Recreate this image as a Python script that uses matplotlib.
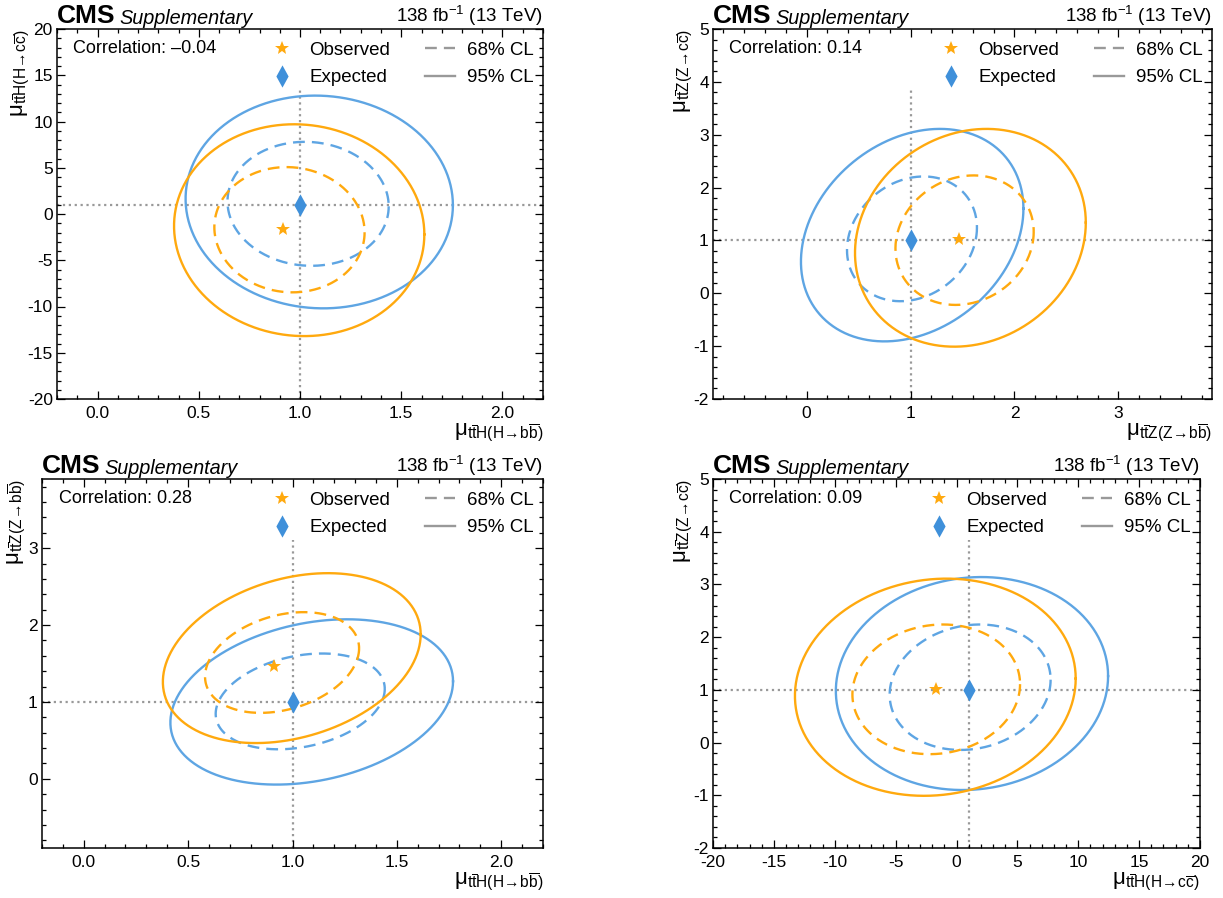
import numpy as np
import matplotlib
matplotlib.use("Agg")
import matplotlib.pyplot as plt
from matplotlib.lines import Line2D
from matplotlib.ticker import MultipleLocator, FormatStrFormatter
from matplotlib.path import Path

plt.rcParams['font.family'] = ['Liberation Sans', 'DejaVu Sans']
plt.rcParams['mathtext.fontset'] = 'custom'
plt.rcParams['mathtext.rm'] = 'Liberation Sans'
plt.rcParams['mathtext.it'] = 'Liberation Sans:italic'
plt.rcParams['mathtext.bf'] = 'Liberation Sans:bold'
plt.rcParams['axes.unicode_minus'] = False

ORANGE = '#ffa90e'
BLUE = '#3f90da'
BLUE_LINE = '#5ea5e3'
GREY = '#999999'

# ---------------- data ----------------
SUB_HBB = r'$_{\mathrm{t\overline{t}H(H\!\rightarrow\!b\overline{b})}}$'
SUB_HCC = r'$_{\mathrm{t\overline{t}H(H\!\rightarrow\!c\overline{c})}}$'
SUB_ZBB = r'$_{\mathrm{t\overline{t}Z(Z\!\rightarrow\!b\overline{b})}}$'
SUB_ZCC = r'$_{\mathrm{t\overline{t}Z(Z\!\rightarrow\!c\overline{c})}}$'
titles_x = ['μ' + SUB_HBB, 'μ' + SUB_ZBB, 'μ' + SUB_HBB, 'μ' + SUB_HCC]
titles_y = ['μ' + SUB_HCC, 'μ' + SUB_ZCC, 'μ' + SUB_ZBB, 'μ' + SUB_ZCC]
correlations = ['\u20130.04', '0.14', '0.28', '0.09']

# best-fit points
obs_x = [0.914, 1.465, 0.912, -1.65]
obs_y = [-1.65, 1.02, 1.466, 1.015]
exp_x = [1.0, 1.0, 1.0, 1.0]
exp_y = [1.0, 1.0, 1.0, 1.0]

# contour parameters: centre x, centre y, half-width x, half-width y, tilt (correlation)
obs68_cx = [0.948, 1.52, 0.95, -1.665]
obs68_cy = [-1.70, 1.005, 1.513, 1.01]
obs68_hx = [0.371, 0.665, 0.369, 6.885]
obs68_hy = [6.77, 1.225, 0.655, 1.23]
obs68_r = [-0.04, 0.13, 0.28, 0.08]

obs95_cx = [0.996, 1.576, 0.9965, -1.74]
obs95_cy = [-1.75, 1.05, 1.57, 1.05]
obs95_hx = [0.618, 1.11, 0.6175, 11.53]
obs95_hy = [11.45, 2.06, 1.105, 2.06]
obs95_r = [-0.04, 0.14, 0.28, 0.08]

exp68_cx = [1.04, 1.014, 1.037, 1.12]
exp68_cy = [1.10, 1.03, 1.007, 1.05]
exp68_hx = [0.398, 0.625, 0.405, 6.61]
exp68_hy = [6.70, 1.18, 0.623, 1.19]
exp68_r = [-0.04, 0.18, 0.26, 0.12]

exp95_cx = [1.095, 1.016, 1.092, 1.27]
exp95_cy = [1.30, 1.10, 1.00, 1.12]
exp95_hx = [0.66, 1.07, 0.677, 11.18]
exp95_hy = [11.5, 2.01, 1.075, 2.02]
exp95_r = [-0.03, 0.25, 0.25, 0.07]

xlims = [(-0.2, 2.2), (-0.9, 3.9), (-0.2, 2.2), (-20, 20)]
ylims = [(-20, 20), (-2, 5), (-0.9, 3.9), (-2, 5)]
xmajor = [0.5, 1, 0.5, 5]
xminor = [0.1, 0.2, 0.1, 1]
ymajor = [5, 1, 1, 1]
yminor = [1, 0.2, 0.2, 0.2]
xfmt = ['%.1f', '%d', '%.1f', '%d']
yfmt = ['%d', '%d', '%d', '%d']

W, H = 1223, 898
# axes boxes in pixels: left, right, top, bottom
boxes = [(57, 543, 29, 399), (713, 1212, 29, 399), (42, 543, 479, 848), (713, 1200, 479, 848)]
# right edge of the y-axis title, in pixels
ylabel_right = [32, 695, 28, 695]

DIAMOND = Path([(0, 1), (0.55, 0), (0, -1), (-0.55, 0), (0, 1)],
               [Path.MOVETO, Path.LINETO, Path.LINETO, Path.LINETO, Path.CLOSEPOLY])


def ellipse(cx, cy, hx, hy, r):
    t = np.linspace(0, 2 * np.pi, 400)
    x = cx + hx * np.cos(t)
    y = cy + hy * (r * np.cos(t) - np.sqrt(1 - r * r) * np.sin(t))
    return x, y


fig = plt.figure(figsize=(W / 100, H / 100), dpi=100)

for i in range(4):
    l, r_, t, b = boxes[i]
    ax = fig.add_axes([l / W, 1 - b / H, (r_ - l) / W, (b - t) / H])
    ax.set_xlim(*xlims[i])
    ax.set_ylim(*ylims[i])
    ax.xaxis.set_major_locator(MultipleLocator(xmajor[i]))
    ax.xaxis.set_minor_locator(MultipleLocator(xminor[i]))
    ax.yaxis.set_major_locator(MultipleLocator(ymajor[i]))
    ax.yaxis.set_minor_locator(MultipleLocator(yminor[i]))
    ax.xaxis.set_major_formatter(FormatStrFormatter(xfmt[i]))
    ax.yaxis.set_major_formatter(FormatStrFormatter(yfmt[i]))
    ax.tick_params(which='both', direction='in', top=True, right=True, labelsize=12.5, width=0.9)
    ax.tick_params(which='major', length=5.5)
    ax.tick_params(axis='x', which='major', pad=5)
    ax.tick_params(axis='y', which='major', pad=3)
    ax.tick_params(which='minor', length=3)
    for s in ax.spines.values():
        s.set_linewidth(1.1)

    # reference lines
    ax.axhline(1, color=GREY, ls=':', lw=1.6, zorder=1)
    ax.axvline(1, ymax=0.835, color=GREY, ls=':', lw=1.6, zorder=1)

    for (cx, cy, hx, hy, rr, col, ls) in [
        (exp95_cx, exp95_cy, exp95_hx, exp95_hy, exp95_r, BLUE_LINE, '-'),
        (exp68_cx, exp68_cy, exp68_hx, exp68_hy, exp68_r, BLUE_LINE, (0, (5, 3))),
        (obs95_cx, obs95_cy, obs95_hx, obs95_hy, obs95_r, ORANGE, '-'),
        (obs68_cx, obs68_cy, obs68_hx, obs68_hy, obs68_r, ORANGE, (0, (5, 3))),
    ]:
        x, y = ellipse(cx[i], cy[i], hx[i], hy[i], rr[i])
        ax.plot(x, y, color=col, ls=ls, lw=1.7, zorder=2)

    ax.plot(obs_x[i], obs_y[i], marker='*', color=ORANGE, ms=10.5, mew=0, ls='none', zorder=3)
    ax.plot(exp_x[i], exp_y[i], marker=DIAMOND, color=BLUE, ms=16, mew=0, ls='none', zorder=3)

    handles = [Line2D([], [], marker='*', color=ORANGE, ms=10.5, mew=0, ls='none'),
               Line2D([], [], marker=DIAMOND, color=BLUE, ms=16, mew=0, ls='none'),
               Line2D([], [], color=GREY, ls=(0, (5, 3)), lw=1.7),
               Line2D([], [], color=GREY, ls='-', lw=1.7)]
    labels = ['Observed', 'Expected', '68% CL', '95% CL']
    ax.legend(handles, labels, ncol=2, loc='upper right', frameon=False, fontsize=13.5,
              bbox_to_anchor=(0.997, 0.986), handlelength=1.6, handletextpad=0.64,
              columnspacing=1.87, labelspacing=0.56, borderaxespad=0.0)

    ax.text(0.033, 0.97, 'Correlation: ' + correlations[i], transform=ax.transAxes,
            fontsize=13, ha='left', va='top')

    ax.set_xlabel(titles_x[i], fontsize=16, loc='right', labelpad=1)
    ax.set_ylabel(titles_y[i], fontsize=16, loc='top')
    ax.yaxis.set_label_coords((ylabel_right[i] - l) / (r_ - l), 1.0)

    # header
    ax.annotate('CMS', xy=(0.0, 1.0), xycoords='axes fraction', xytext=(0, 1),
                textcoords='offset points', fontsize=19, fontweight='bold',
                ha='left', va='bottom')
    ax.annotate('Supplementary', xy=(0.0, 1.0), xycoords='axes fraction', xytext=(45, 1),
                textcoords='offset points', fontsize=14.3, style='italic',
                ha='left', va='bottom')
    ax.annotate(r'138 fb$^{-1}$ (13 TeV)', xy=(1.0, 1.0), xycoords='axes fraction',
                xytext=(0, 1), textcoords='offset points', fontsize=13.5,
                ha='right', va='bottom')

fig.savefig('out.png', dpi=100)
